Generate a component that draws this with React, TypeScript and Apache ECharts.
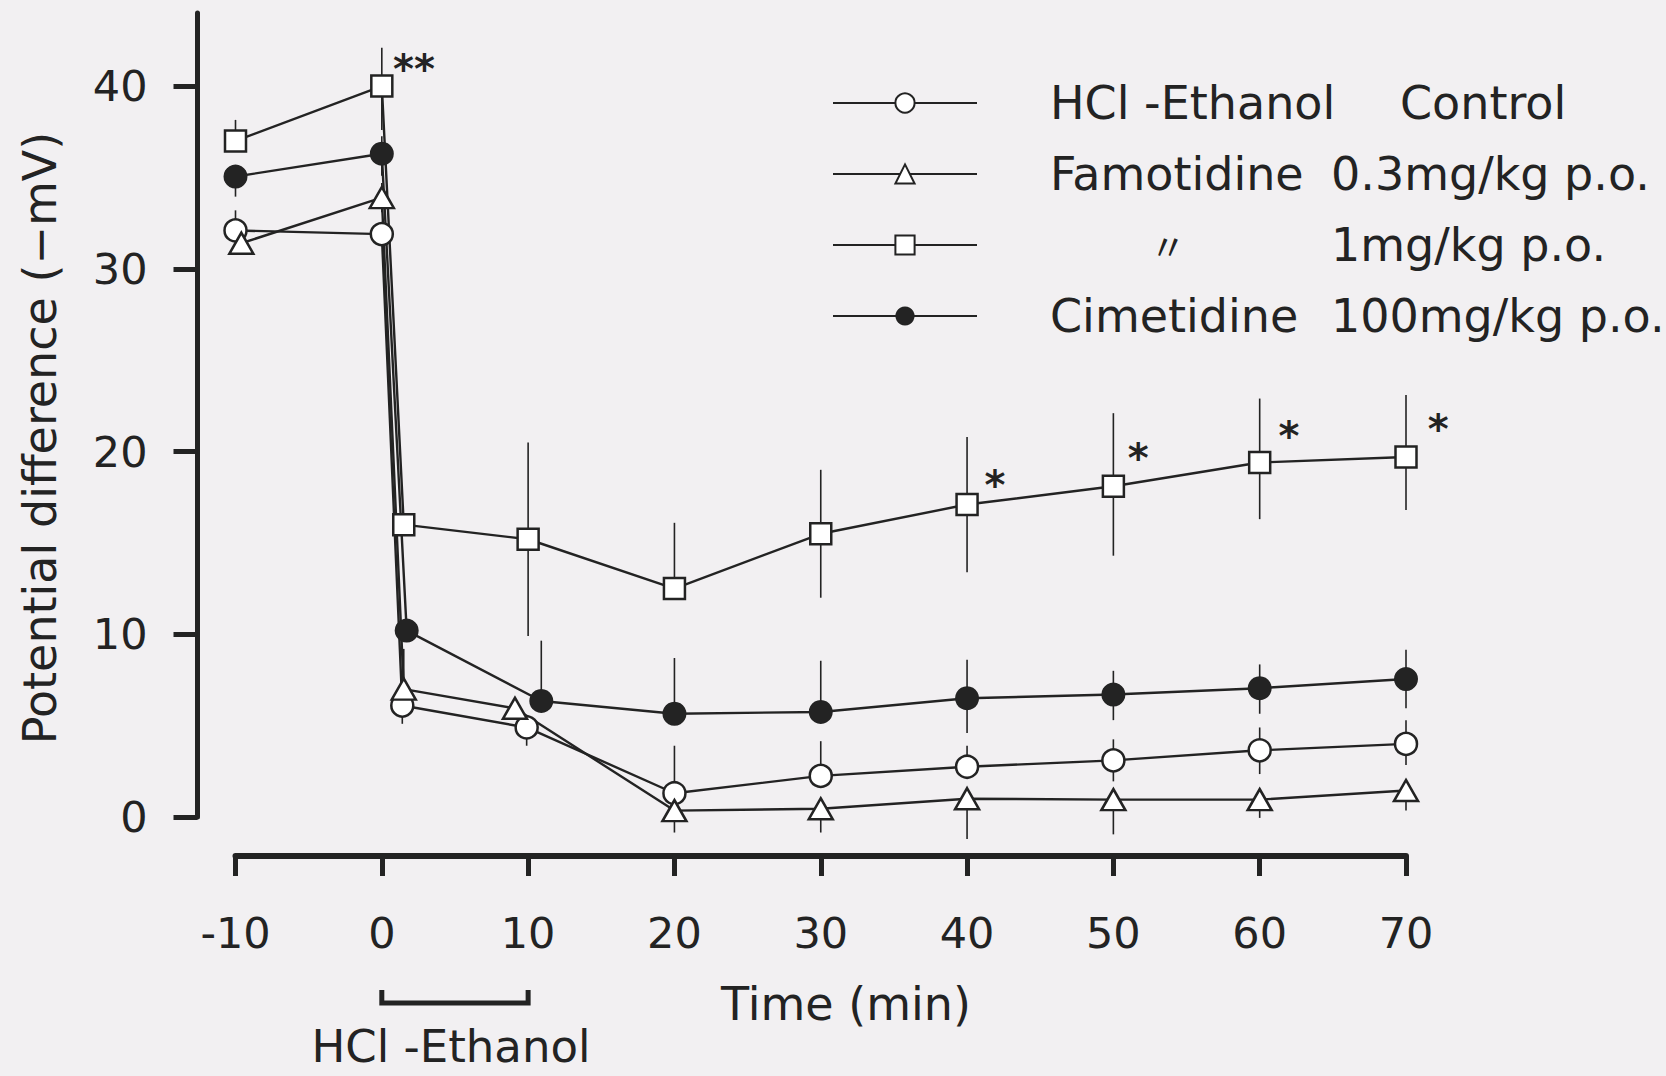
import React, { useEffect, useRef } from "react";
import * as echarts from "echarts";

// ---- data (time in min, potential difference in -mV) ----
const timesControl = [-10, 0, 1.4, 9.9, 20, 30, 40, 50, 60, 70];
const valuesControl = [32.1, 31.9, 6.1, 4.9, 1.3, 2.25, 2.75, 3.1, 3.65, 4.0];
const errUpControl = [1.1, 0, 0, 0, 2.6, 1.9, 1.15, 1.15, 1.25, 1.3];
const errDownControl = [0, 0, 1.0, 1.0, 0, 0, 0, 1.15, 1.3, 1.15];

const timesFamo03 = [-9.6, 0, 1.5, 9.1, 20, 30, 40, 50, 60, 70];
const valuesFamo03 = [31.4, 33.9, 7.0, 5.95, 0.35, 0.45, 1.0, 0.95, 0.95, 1.45];
const errUpFamo03 = [0, 0.8, 2.2, 0, 0, 0, 0, 0, 0, 0];
const errDownFamo03 = [0.5, 0.8, 0, 0, 1.2, 1.3, 2.2, 1.9, 1.0, 1.1];

const timesFamo1 = [-10, 0, 1.5, 10, 20, 30, 40, 50, 60, 70];
const valuesFamo1 = [37.0, 40.0, 16.0, 15.2, 12.5, 15.5, 17.1, 18.1, 19.4, 19.7];
const errUpFamo1 = [1.15, 2.1, 0, 5.3, 3.6, 3.5, 3.7, 4.0, 3.5, 3.4];
const errDownFamo1 = [0, 2.4, 0, 5.3, 0, 3.5, 3.7, 3.8, 3.1, 2.9];

const timesCime = [-10, 0, 1.7, 10.9, 20, 30, 40, 50, 60, 70];
const valuesCime = [35.05, 36.3, 10.2, 6.35, 5.65, 5.75, 6.5, 6.7, 7.05, 7.55];
const errUpCime = [0, 0.95, 0, 3.3, 3.05, 2.8, 2.1, 1.3, 1.3, 1.6];
const errDownCime = [1.1, 1.2, 0, 0, 0, 0, 1.9, 1.4, 1.4, 1.6];

// significance marks (position beside the error bars)
const sigTimes = [2.2, 41.9, 51.7, 62.0, 72.2];
const sigValues = [41.5, 18.7, 20.2, 21.4, 21.8];
const sigMarks = ["**", "*", "*", "*", "*"];

const yTickValues = [0, 10, 20, 30, 40];
const xMin = -10;
const xMax = 70;
const xStep = 10;
const yMax = 44;

// HCl-Ethanol exposure period
const exposureStart = 0;
const exposureEnd = 10;

const seriesNames = [
  "HCl -Ethanol Control",
  "Famotidine 0.3mg/kg p.o.",
  "〃 1mg/kg p.o.",
  "Cimetidine 100mg/kg p.o.",
];

const F = "DejaVu Sans";
const ink = "#232323";

function lineSeries(
  name: string,
  times: number[],
  values: number[],
  symbol: string,
  size: number | number[],
  filled: boolean
) {
  return {
    type: "line",
    name,
    data: times.map((t, i) => [t, values[i]]),
    symbol,
    symbolSize: size,
    showAllSymbol: true,
    clip: false,
    z: 3,
    emphasis: { disabled: true },
    lineStyle: { color: ink, width: 2.4 },
    itemStyle: {
      color: filled ? ink : "#ffffff",
      borderColor: ink,
      borderWidth: filled ? 0 : 2.5,
      opacity: 1,
    },
  };
}

function errorItems(times: number[], values: number[], up: number[], down: number[]) {
  return times.map((t, i) => [t, values[i], up[i], down[i]]);
}

export default function App() {
  const ref = useRef<HTMLDivElement>(null);

  useEffect(() => {
    if (!ref.current) return;
    const chart = echarts.init(ref.current, null, { renderer: "svg" });

    const errData = [
      ...errorItems(timesControl, valuesControl, errUpControl, errDownControl),
      ...errorItems(timesFamo03, valuesFamo03, errUpFamo03, errDownFamo03),
      ...errorItems(timesFamo1, valuesFamo1, errUpFamo1, errDownFamo1),
      ...errorItems(timesCime, valuesCime, errUpCime, errDownCime),
    ];

    const legendText = {
      fontSize: 46,
      fontFamily: F,
      color: ink,
      lineHeight: 50,
    };

    const option: any = {
      animation: false,
      backgroundColor: "#f2f0f2",
      grid: { left: 235.5, right: 260, top: 13, bottom: 259, containLabel: false },
      xAxis: {
        type: "value",
        min: xMin,
        max: xMax,
        interval: xStep,
        offset: 39,
        axisLine: { show: true, onZero: false, lineStyle: { color: ink, width: 6 } },
        axisTick: { show: true, length: 20, lineStyle: { color: ink, width: 5 } },
        axisLabel: { fontSize: 43, fontFamily: F, color: ink, margin: 55 },
        splitLine: { show: false },
      },
      yAxis: {
        type: "value",
        min: 0,
        max: yMax,
        offset: 38,
        axisLine: { show: true, onZero: false, lineStyle: { color: ink, width: 5 } },
        axisTick: {
          show: true,
          length: 24,
          customValues: yTickValues,
          lineStyle: { color: ink, width: 5 },
        },
        axisLabel: {
          customValues: yTickValues,
          fontSize: 43,
          fontFamily: F,
          color: ink,
          margin: 50,
        },
        splitLine: { show: false },
      },
      legend: {
        orient: "vertical",
        left: 832,
        top: 78,
        padding: 0,
        itemWidth: 144,
        itemHeight: 24,
        itemGap: 21,
        selectedMode: false,
        data: seriesNames,
        formatter: (name: string) => {
          if (name === seriesNames[0]) return "{g|}{a|HCl -Ethanol}{t|Control}";
          if (name === seriesNames[1]) return "{g|}{n|Famotidine}{t|0.3mg/kg p.o.}";
          if (name === seriesNames[2]) return "{g|}{s|}{dm|〃}{t|1mg/kg p.o.}";
          return "{g|}{n|Cimetidine}{t|100mg/kg p.o.}";
        },
        textStyle: {
          ...legendText,
          rich: {
            g: { width: 68 },
            a: { ...legendText, width: 350 },
            n: { ...legendText, width: 281 },
            s: { width: 100 },
            dm: { fontSize: 36, fontFamily: "Noto Sans CJK JP", color: ink, width: 181, lineHeight: 50 },
            t: { ...legendText },
          },
        },
      },
      series: [
        {
          type: "custom",
          name: "error bars",
          z: 1,
          clip: false,
          silent: true,
          encode: { x: 0, y: 1 },
          data: errData,
          renderItem: (params: any, api: any) => {
            const t = api.value(0);
            const v = api.value(1);
            const up = api.value(2);
            const dn = api.value(3);
            const c = api.coord([t, v]);
            const children: any[] = [];
            if (up > 0) {
              const p = api.coord([t, v + up]);
              children.push({
                type: "line",
                shape: { x1: c[0], y1: c[1], x2: p[0], y2: p[1] },
                style: { stroke: ink, lineWidth: 1.6 },
              });
            }
            if (dn > 0) {
              const p = api.coord([t, v - dn]);
              children.push({
                type: "line",
                shape: { x1: c[0], y1: c[1], x2: p[0], y2: p[1] },
                style: { stroke: ink, lineWidth: 1.6 },
              });
            }
            return { type: "group", children };
          },
        },
        lineSeries(seriesNames[0], timesControl, valuesControl, "circle", 22, false),
        lineSeries(seriesNames[1], timesFamo03, valuesFamo03, "triangle", [24, 21], false),
        lineSeries(seriesNames[2], timesFamo1, valuesFamo1, "rect", 21, false),
        lineSeries(seriesNames[3], timesCime, valuesCime, "circle", 24, true),
        {
          type: "custom",
          name: "significance",
          z: 5,
          clip: false,
          silent: true,
          encode: { x: 0, y: 1 },
          data: sigTimes.map((t, i) => [t, sigValues[i]]),
          renderItem: (params: any, api: any) => {
            const c = api.coord([api.value(0), api.value(1)]);
            return {
              type: "text",
              x: c[0],
              y: c[1] + 10,
              style: {
                text: sigMarks[params.dataIndex],
                fontSize: 40,
                fontWeight: "bold",
                fontFamily: F,
                fill: ink,
                align: "center",
                verticalAlign: "middle",
              },
            };
          },
        },
      ],
    };

    chart.setOption(option);

    const bx0 = chart.convertToPixel({ xAxisIndex: 0 }, exposureStart) as number;
    const bx1 = chart.convertToPixel({ xAxisIndex: 0 }, exposureEnd) as number;

    chart.setOption({
      graphic: [
        {
          type: "text",
          x: 40,
          y: 438,
          rotation: Math.PI / 2,
          style: {
            text: "Potential difference (−mV)",
            fontSize: 46,
            fontFamily: F,
            fill: ink,
            align: "center",
            verticalAlign: "middle",
          },
        },
        {
          type: "text",
          x: 846,
          y: 1004,
          style: {
            text: "Time (min)",
            fontSize: 46,
            fontFamily: F,
            fill: ink,
            align: "center",
            verticalAlign: "middle",
          },
        },
        {
          type: "polyline",
          shape: {
            points: [
              [bx0, 990],
              [bx0, 1003],
              [bx1, 1003],
              [bx1, 990],
            ],
          },
          style: { stroke: ink, lineWidth: 5, fill: "none" },
        },
        {
          type: "text",
          x: (bx0 + bx1) / 2 - 4,
          y: 1046,
          style: {
            text: "HCl -Ethanol",
            fontSize: 45,
            fontFamily: F,
            fill: ink,
            align: "center",
            verticalAlign: "middle",
          },
        },
      ],
    });

    return () => {
      chart.dispose();
    };
  }, []);

  return (
    <div
      ref={ref}
      style={{ position: "fixed", left: 0, top: 0, width: "1666px", height: "1076px" }}
    />
  );
}
